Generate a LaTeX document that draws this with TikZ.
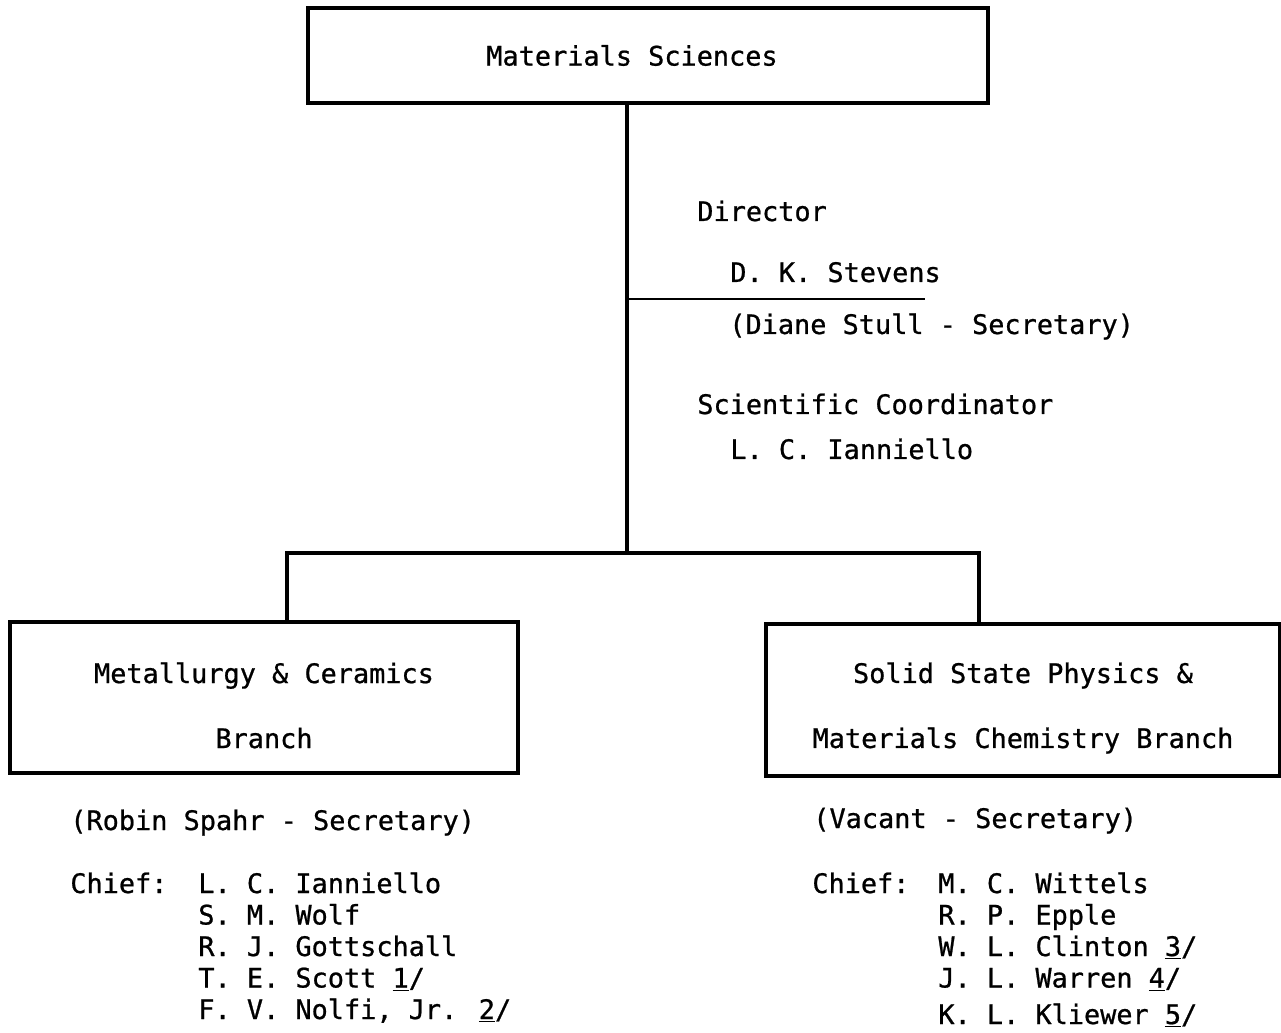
\documentclass[tikz,border=0pt]{standalone}
\usepackage{fontspec}
\setmainfont{DejaVu Sans Mono}[FakeBold=0.8]
\usetikzlibrary{positioning}

\begin{document}
\begin{tikzpicture}[
  x=0.02cm, y=-0.02cm,
  font=\fontsize{15.3}{37}\selectfont,
  unit/.style={draw, line width=1.8pt, align=center, inner sep=0pt},
  txt/.style={anchor=base west, inner sep=0pt},
  link/.style={draw, line width=1.8pt}
]
\useasboundingbox (0,0) rectangle (1281,1033);
\node[unit, minimum width=13.6cm, minimum height=1.9cm] (ms) at (648,55.5) {\hspace*{-0.64cm}Materials Sciences};
\node[unit, minimum width=10.16cm, minimum height=3.02cm] (mc) at (264,697.5) {\rule{0pt}{0.73cm}Metallurgy \& Ceramics\\Branch};
\node[unit, minimum width=10.28cm, minimum height=3.04cm] (ss) at (1023,700) {\rule{0pt}{0.73cm}Solid State Physics \&\\Materials Chemistry Branch};
\coordinate (hub) at (627,553);
\coordinate (jl) at (287,553);
\coordinate (jr) at (979,553);
\coordinate (tick) at (925,299);
\draw[link] (hub |- ms.south) -- (hub);
\draw[link] (jl |- mc.north) -- (jl) -- (jr) -- (jr |- ss.north);
\draw[line width=1.2pt] (hub |- tick) -- (tick);
\node[txt] (dir) at (697,221) {Director};
\node[txt] (dks) at (730,282) {D. K. Stevens};
\node[txt] (dss) at (729,334) {(Diane Stull - Secretary)};
\node[txt] (sco) at (697,414) {Scientific Coordinator};
\node[txt] (lci) at (730,459) {L. C. Ianniello};
\node[txt] (mcsec) at (70,830) {(Robin Spahr - Secretary)};
\node[txt] (mcchief) at (70,893) {Chief:};
\node[txt] (mc1) at (198,893) {L. C. Ianniello};
\node[txt] (mc2) at (198,924.5) {S. M. Wolf};
\node[txt] (mc3) at (198,956) {R. J. Gottschall};
\node[txt] (mc4) at (198,987.5) {T. E. Scott \underline{1}/};
\node[txt] (mc5) at (198,1019) {F. V. Nolfi, Jr. \underline{2}/};
\node[txt] (sssec) at (813,828) {(Vacant - Secretary)};
\node[txt] (sschief) at (812,893) {Chief:};
\node[txt] (ss1) at (938,893) {M. C. Wittels};
\node[txt] (ss2) at (938,924.5) {R. P. Epple};
\node[txt] (ss3) at (938,956) {W. L. Clinton \underline{3}/};
\node[txt] (ss4) at (938,987.5) {J. L. Warren \underline{4}/};
\node[txt] (ss5) at (938,1024) {K. L. Kliewer \underline{5}/};
\end{tikzpicture}
\end{document}
